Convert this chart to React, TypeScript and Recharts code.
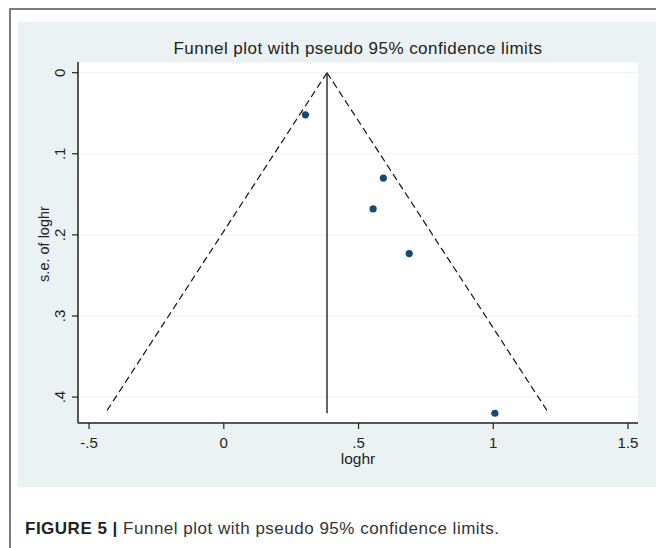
import React from 'react';
import { ScatterChart, Scatter, XAxis, YAxis, CartesianGrid, ReferenceLine } from 'recharts';

// study estimates
const studies = [
  { loghr: 0.303, se: 0.052 },
  { loghr: 0.592, se: 0.13 },
  { loghr: 0.554, se: 0.168 },
  { loghr: 0.688, se: 0.223 },
  { loghr: 1.006, se: 0.42 },
];

// pooled estimate and pseudo 95% limits at the largest s.e.
const pooledLoghr = 0.383;
const maxSe = 0.42;
const lowerLimitAtMaxSe = -0.44;
const upperLimitAtMaxSe = 1.206;

const xTicks = [-0.5, 0, 0.5, 1, 1.5];
const yTicks = [0, 0.1, 0.2, 0.3, 0.4];
const xDomain = [-0.541, 1.537];
const yDomain = [-0.0132, 0.432];

const FONT = '"Liberation Sans", Arial, Helvetica, sans-serif';
const INK = '#222';
const PANEL = '#eaf2f3';
const NAVY = '#1a476f';

const fmt = (v: number) => (v === 0 ? '0' : String(v).replace(/^(-?)0\./, '$1.'));

const YTick = ({ x, y, payload }: any) => (
  <text
    x={x}
    y={y}
    transform={`rotate(-90 ${x} ${y})`}
    textAnchor="middle"
    fontSize={15}
    fill={INK}
  >
    {fmt(payload.value)}
  </text>
);

const Dot = (props: any) => <circle cx={props.cx} cy={props.cy} r={3.6} fill={NAVY} />;

export default function App() {
  return (
    <div
      style={{
        position: 'absolute',
        left: 0,
        top: 0,
        width: 656,
        height: 548,
        overflow: 'hidden',
        background: '#fff',
        fontFamily: FONT,
        color: INK,
      }}
    >
      {/* figure frame */}
      <div
        style={{
          position: 'absolute',
          left: 9,
          top: 8,
          width: 700,
          height: 600,
          borderTop: '2px solid #7d7d7d',
          borderLeft: '2px solid #7d7d7d',
        }}
      />
      <div style={{ position: 'absolute', left: 18, top: 22, width: 638, height: 465, background: PANEL }}>
        <ScatterChart width={638} height={465} margin={{ top: 40, right: 18, bottom: 0, left: 0 }}>
          <CartesianGrid vertical={false} fill="#fff" fillOpacity={1} stroke={PANEL} strokeWidth={1} />
          <XAxis
            type="number"
            dataKey="loghr"
            domain={xDomain}
            ticks={xTicks}
            tickFormatter={fmt}
            allowDataOverflow
            height={64}
            tickSize={6}
            tickMargin={8}
            tick={{ fontSize: 15, fill: INK }}
            axisLine={{ stroke: INK, strokeWidth: 1.5 }}
            tickLine={{ stroke: INK, strokeWidth: 1.2 }}
          />
          <YAxis
            type="number"
            dataKey="se"
            reversed
            domain={yDomain}
            ticks={yTicks}
            allowDataOverflow
            width={60}
            tickSize={6}
            tickMargin={7}
            tick={<YTick />}
            axisLine={{ stroke: INK, strokeWidth: 1.5 }}
            tickLine={{ stroke: INK, strokeWidth: 1.2 }}
          />
          <ReferenceLine
            segment={[
              { x: pooledLoghr, y: 0 },
              { x: lowerLimitAtMaxSe, y: maxSe },
            ]}
            stroke="#111"
            strokeWidth={1.2}
            strokeDasharray="7 4"
          />
          <ReferenceLine
            segment={[
              { x: pooledLoghr, y: 0 },
              { x: upperLimitAtMaxSe, y: maxSe },
            ]}
            stroke="#111"
            strokeWidth={1.2}
            strokeDasharray="7 4"
          />
          <ReferenceLine
            segment={[
              { x: pooledLoghr, y: 0 },
              { x: pooledLoghr, y: maxSe },
            ]}
            stroke="#333"
            strokeWidth={1.5}
          />
          <Scatter data={studies} shape={<Dot />} isAnimationActive={false} />
        </ScatterChart>
      </div>
      <div
        style={{
          position: 'absolute',
          left: 78,
          top: 39.6,
          width: 560,
          textAlign: 'center',
          fontSize: 17,
          lineHeight: '17px',
          letterSpacing: 0.45,
          whiteSpace: 'nowrap',
        }}
      >
        Funnel plot with pseudo 95% confidence limits
      </div>
      <div
        style={{
          position: 'absolute',
          left: 78,
          top: 451,
          width: 560,
          textAlign: 'center',
          fontSize: 15.5,
          lineHeight: '15.5px',
        }}
      >
        loghr
      </div>
      <div
        style={{
          position: 'absolute',
          left: 44 - 60,
          top: 244 - 10,
          width: 120,
          height: 20,
          lineHeight: '20px',
          textAlign: 'center',
          fontSize: 14.5,
          transform: 'rotate(-90deg)',
          whiteSpace: 'nowrap',
        }}
      >
        s.e. of loghr
      </div>
      <div
        style={{
          position: 'absolute',
          left: 25,
          top: 519.6,
          fontSize: 17,
          lineHeight: '17px',
          letterSpacing: 0.5,
          whiteSpace: 'nowrap',
          color: '#333',
        }}
      >
        <b style={{ color: '#222' }}>FIGURE 5 |</b> Funnel plot with pseudo 95% confidence limits.
      </div>
    </div>
  );
}
